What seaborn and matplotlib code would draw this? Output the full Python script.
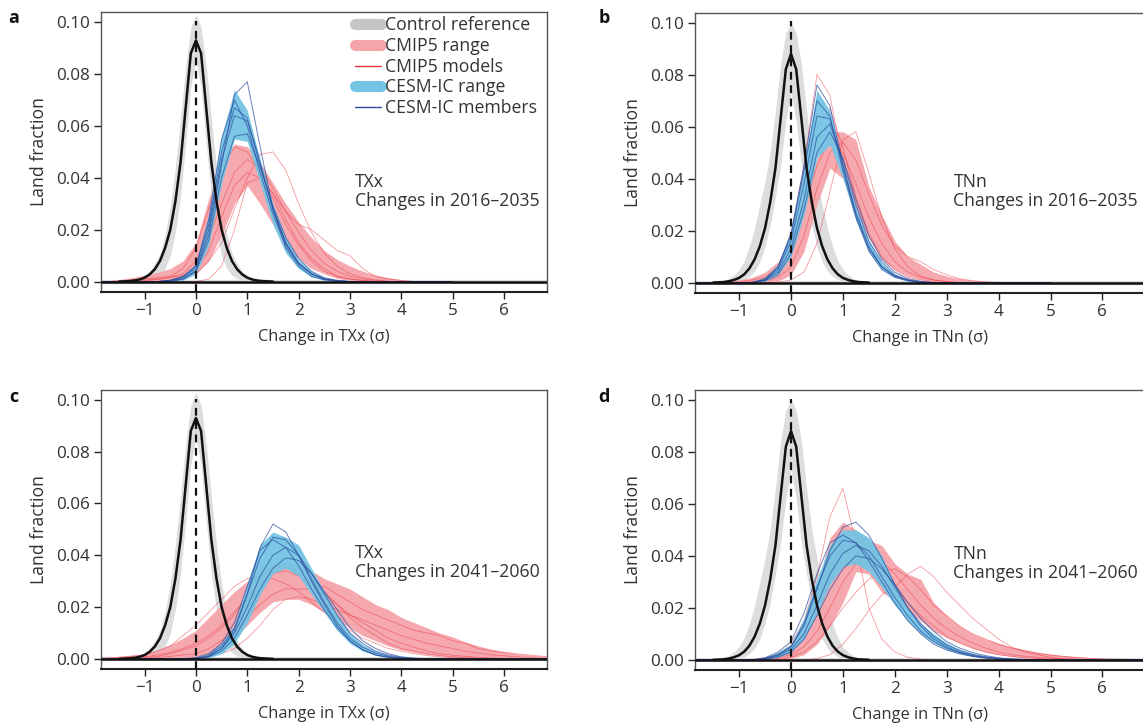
#!/usr/bin/env python3
"""
Land-fraction distributions of TXx / TNn changes (in units of control sigma):
control reference, CMIP5 models and the CESM initial-condition ensemble.
"""

import numpy as np
import matplotlib
matplotlib.use("Agg")
import matplotlib.pyplot as plt
from matplotlib.lines import Line2D
import seaborn as sns


# sample positions (sigma units)
GRID_AB = np.round(np.arange(-2.0, 5.001, 0.25), 2)   # 29 points, panels a/b
GRID_CD = np.round(np.arange(-2.0, 7.001, 0.25), 2)   # 37 points, panels c/d
CTRL_X = np.round(np.arange(-1.5, 1.501, 0.1), 2)     # 31 points, control

# ---- control reference (same for both periods) ----
CTRL_TXX_MID = [0, 0.0001, 0.0002, 0.0004, 0.0008, 0.0015, 0.0028, 0.0048, 0.008, 0.013, 0.020, 0.031, 0.046, 0.067, 0.088,
                0.093,
                0.088, 0.067, 0.046, 0.031, 0.020, 0.013, 0.008, 0.0048, 0.0028, 0.0015, 0.0008, 0.0004, 0.0002, 0.0001, 0]
CTRL_TXX_HI = [0, 0.0001, 0.0003, 0.0006, 0.0012, 0.0022, 0.004, 0.007, 0.011, 0.018, 0.029, 0.044, 0.063, 0.083, 0.098,
               0.103,
               0.098, 0.083, 0.063, 0.044, 0.029, 0.018, 0.011, 0.007, 0.004, 0.0022, 0.0012, 0.0006, 0.0003, 0.0001, 0]
CTRL_TXX_LO = [0, 0, 0, 0, 0, 0.0002, 0.0005, 0.0012, 0.0025, 0.005, 0.010, 0.019, 0.033, 0.053, 0.075,
               0.085,
               0.075, 0.053, 0.033, 0.019, 0.010, 0.005, 0.0025, 0.0012, 0.0005, 0.0002, 0, 0, 0, 0, 0]
CTRL_TNN_MID = [0, 0.0001, 0.0002, 0.0005, 0.001, 0.0018, 0.0032, 0.0055, 0.009, 0.014, 0.021, 0.031, 0.044, 0.063, 0.082,
                0.088,
                0.082, 0.063, 0.044, 0.031, 0.021, 0.014, 0.009, 0.0055, 0.0032, 0.0018, 0.001, 0.0005, 0.0002, 0.0001, 0]
CTRL_TNN_HI = [0, 0.0003, 0.0008, 0.0015, 0.003, 0.005, 0.0085, 0.014, 0.021, 0.030, 0.039, 0.050, 0.066, 0.084, 0.096,
               0.100,
               0.096, 0.084, 0.066, 0.050, 0.039, 0.030, 0.021, 0.014, 0.0085, 0.005, 0.003, 0.0015, 0.0008, 0.0003, 0]
CTRL_TNN_LO = [0, 0, 0, 0, 0.0002, 0.0005, 0.0012, 0.0025, 0.0045, 0.008, 0.014, 0.022, 0.033, 0.045, 0.062,
               0.073,
               0.062, 0.045, 0.033, 0.022, 0.014, 0.008, 0.0045, 0.0025, 0.0012, 0.0005, 0.0002, 0, 0, 0, 0]

# ---- panel a: TXx 2016-2035 (GRID_AB) ----
A_CMIP_HI = [0, 0.0003, 0.0008, 0.0015, 0.0025, 0.0035, 0.005, 0.008,
             0.015, 0.032, 0.045, 0.053, 0.052, 0.046, 0.038, 0.030,
             0.023, 0.017, 0.012, 0.0085, 0.006, 0.004, 0.0025, 0.0015,
             0.0008, 0.0004, 0.0001, 0, 0]
A_CMIP_LO = [0, 0, 0, 0, 0, 0, 0.0003, 0.001,
             0.003, 0.008, 0.018, 0.030, 0.037, 0.030, 0.022, 0.014,
             0.009, 0.005, 0.003, 0.0012, 0.0005, 0.0002, 0, 0,
             0, 0, 0, 0, 0]
A_CMIP_M1 = [0, 0, 0, 0, 0, 0, 0.0005, 0.0015,
             0.003, 0.008, 0.015, 0.028, 0.040, 0.049, 0.050, 0.043,
             0.030, 0.019, 0.011, 0.006, 0.003, 0.0015, 0.0006, 0.0002,
             0, 0, 0, 0, 0]
A_CMIP_M2 = [0, 0, 0, 0, 0.0003, 0.0008, 0.0015, 0.0025,
             0.004, 0.012, 0.025, 0.037, 0.042, 0.040, 0.034, 0.027,
             0.022, 0.020, 0.016, 0.012, 0.010, 0.005, 0.002, 0.001,
             0.0004, 0, 0, 0, 0]
A_CMIP_M3 = [0, 0, 0.0003, 0.0006, 0.001, 0.0015, 0.002, 0.005,
             0.013, 0.028, 0.043, 0.052, 0.050, 0.042, 0.032, 0.022,
             0.014, 0.008, 0.004, 0.002, 0.001, 0.0004, 0, 0,
             0, 0, 0, 0, 0]
A_CMIP_M4 = [0, 0, 0, 0.0003, 0.0006, 0.001, 0.0018, 0.003,
             0.008, 0.017, 0.030, 0.042, 0.047, 0.044, 0.036, 0.027,
             0.019, 0.012, 0.007, 0.004, 0.002, 0.001, 0.0004, 0,
             0, 0, 0, 0, 0]
A_CMIP_M5 = [0, 0, 0, 0, 0, 0, 0, 0,
             0, 0.001, 0.006, 0.020, 0.038, 0.040, 0.034, 0.024,
             0.015, 0.009, 0.005, 0.002, 0.001, 0.0004, 0, 0,
             0, 0, 0, 0, 0]
A_CESM_HI = [0, 0, 0, 0, 0, 0, 0.0005, 0.002,
             0.007, 0.026, 0.056, 0.074, 0.066, 0.047, 0.030, 0.017,
             0.0085, 0.004, 0.0015, 0.0005, 0, 0, 0, 0,
             0, 0, 0, 0, 0]
A_CESM_LO = [0, 0, 0, 0, 0, 0, 0, 0.0005,
             0.003, 0.014, 0.038, 0.055, 0.054, 0.038, 0.022, 0.011,
             0.005, 0.0018, 0.0006, 0.0001, 0, 0, 0, 0,
             0, 0, 0, 0, 0]
A_CESM_M1 = [0, 0, 0, 0, 0, 0, 0, 0.001,
             0.004, 0.018, 0.045, 0.072, 0.077, 0.052, 0.028, 0.013,
             0.006, 0.002, 0.0007, 0, 0, 0, 0, 0,
             0, 0, 0, 0, 0]
A_CESM_M2 = [0, 0, 0, 0, 0, 0, 0.0005, 0.002,
             0.006, 0.024, 0.055, 0.070, 0.060, 0.042, 0.026, 0.014,
             0.007, 0.003, 0.001, 0.0003, 0, 0, 0, 0,
             0, 0, 0, 0, 0]
A_CESM_M3 = [0, 0, 0, 0, 0, 0, 0.0003, 0.0015,
             0.005, 0.020, 0.047, 0.064, 0.062, 0.045, 0.028, 0.015,
             0.007, 0.003, 0.001, 0.0003, 0, 0, 0, 0,
             0, 0, 0, 0, 0]
A_CESM_M4 = [0, 0, 0, 0, 0, 0, 0.0003, 0.001,
             0.004, 0.016, 0.040, 0.056, 0.057, 0.044, 0.029, 0.017,
             0.009, 0.004, 0.0015, 0.0005, 0, 0, 0, 0,
             0, 0, 0, 0, 0]
A_CESM_M5 = [0, 0, 0, 0, 0, 0, 0.0005, 0.002,
             0.006, 0.022, 0.050, 0.067, 0.063, 0.046, 0.028, 0.015,
             0.007, 0.003, 0.001, 0.0003, 0, 0, 0, 0,
             0, 0, 0, 0, 0]

# ---- panel b: TNn 2016-2035 (GRID_AB) ----
B_CMIP_HI = [0, 0, 0.0002, 0.0005, 0.001, 0.002, 0.004, 0.008,
             0.018, 0.033, 0.048, 0.058, 0.058, 0.055, 0.037, 0.026,
             0.016, 0.010, 0.007, 0.004, 0.0025, 0.0015, 0.0008, 0.0004,
             0.0002, 0, 0, 0, 0]
B_CMIP_LO = [0, 0, 0, 0, 0, 0, 0, 0.0005,
             0.003, 0.012, 0.030, 0.044, 0.040, 0.028, 0.017, 0.009,
             0.005, 0.0025, 0.0012, 0.0005, 0.0002, 0, 0, 0,
             0, 0, 0, 0, 0]
B_CMIP_M1 = [0, 0, 0, 0, 0, 0, 0.001, 0.005,
             0.018, 0.045, 0.080, 0.072, 0.046, 0.026, 0.013, 0.006,
             0.0025, 0.001, 0.0004, 0, 0, 0, 0, 0,
             0, 0, 0, 0, 0]
B_CMIP_M2 = [0, 0, 0, 0, 0, 0, 0, 0,
             0.001, 0.004, 0.015, 0.035, 0.055, 0.058, 0.042, 0.025,
             0.013, 0.006, 0.0025, 0.001, 0.0003, 0, 0, 0,
             0, 0, 0, 0, 0]
B_CMIP_M3 = [0, 0, 0, 0, 0.0003, 0.001, 0.002, 0.006,
             0.014, 0.028, 0.045, 0.055, 0.050, 0.038, 0.025, 0.015,
             0.008, 0.004, 0.002, 0.001, 0.0004, 0, 0, 0,
             0, 0, 0, 0, 0]
B_CMIP_M4 = [0, 0, 0, 0, 0, 0.0003, 0.001, 0.004,
             0.012, 0.032, 0.060, 0.067, 0.052, 0.033, 0.019, 0.010,
             0.005, 0.002, 0.001, 0.0003, 0, 0, 0, 0,
             0, 0, 0, 0, 0]
B_CMIP_M5 = [0, 0, 0, 0, 0, 0, 0.0005, 0.002,
             0.006, 0.018, 0.036, 0.050, 0.054, 0.047, 0.034, 0.022,
             0.014, 0.010, 0.008, 0.005, 0.003, 0.0015, 0.0007, 0.0003,
             0, 0, 0, 0, 0]
B_CESM_HI = [0, 0, 0, 0, 0, 0.0003, 0.002, 0.007,
             0.020, 0.045, 0.074, 0.066, 0.046, 0.029, 0.016, 0.0075,
             0.003, 0.001, 0.0003, 0, 0, 0, 0, 0,
             0, 0, 0, 0, 0]
B_CESM_LO = [0, 0, 0, 0, 0, 0, 0.0005, 0.003,
             0.010, 0.026, 0.048, 0.053, 0.040, 0.024, 0.012, 0.005,
             0.002, 0.0005, 0, 0, 0, 0, 0, 0,
             0, 0, 0, 0, 0]
B_CESM_M1 = [0, 0, 0, 0, 0, 0, 0.001, 0.006,
             0.019, 0.045, 0.076, 0.068, 0.045, 0.026, 0.013, 0.006,
             0.0025, 0.001, 0, 0, 0, 0, 0, 0,
             0, 0, 0, 0, 0]
B_CESM_M2 = [0, 0, 0, 0, 0, 0, 0.001, 0.005,
             0.016, 0.038, 0.064, 0.063, 0.045, 0.027, 0.014, 0.006,
             0.0025, 0.001, 0, 0, 0, 0, 0, 0,
             0, 0, 0, 0, 0]
B_CESM_M3 = [0, 0, 0, 0, 0, 0, 0.001, 0.004,
             0.013, 0.032, 0.056, 0.061, 0.047, 0.030, 0.016, 0.008,
             0.003, 0.001, 0.0003, 0, 0, 0, 0, 0,
             0, 0, 0, 0, 0]
B_CESM_M4 = [0, 0, 0, 0, 0, 0, 0.0007, 0.003,
             0.011, 0.028, 0.050, 0.058, 0.048, 0.032, 0.018, 0.009,
             0.004, 0.0015, 0.0005, 0, 0, 0, 0, 0,
             0, 0, 0, 0, 0]
B_CESM_M5 = [0, 0, 0, 0, 0, 0, 0.0015, 0.006,
             0.018, 0.043, 0.070, 0.064, 0.043, 0.025, 0.012, 0.005,
             0.002, 0.0007, 0, 0, 0, 0, 0, 0,
             0, 0, 0, 0, 0]

# ---- panel c: TXx 2041-2060 (GRID_CD) ----
C_CMIP_HI = [0.0005, 0.0008, 0.001, 0.0015, 0.002, 0.0035, 0.0055, 0.008,
             0.011, 0.016, 0.021, 0.026, 0.030, 0.034, 0.036, 0.037,
             0.036, 0.034, 0.031, 0.029, 0.027, 0.024, 0.021, 0.019,
             0.016, 0.014, 0.012, 0.010, 0.0085, 0.0065, 0.005, 0.0038,
             0.0028, 0.002, 0.0015, 0.001, 0.0008]
C_CMIP_LO = [0, 0, 0, 0, 0, 0, 0, 0.0003,
             0.001, 0.002, 0.004, 0.008, 0.013, 0.018, 0.022, 0.023,
             0.023, 0.021, 0.018, 0.015, 0.012, 0.009, 0.007, 0.005,
             0.0035, 0.0025, 0.0017, 0.0012, 0.0008, 0.0005, 0.0003, 0.0002,
             0.0001, 0, 0, 0, 0]
C_CMIP_M1 = [0, 0.0003, 0.0006, 0.001, 0.0015, 0.003, 0.005, 0.009,
             0.013, 0.018, 0.023, 0.028, 0.031, 0.032, 0.031, 0.029,
             0.026, 0.022, 0.018, 0.014, 0.011, 0.008, 0.006, 0.004,
             0.003, 0.002, 0.0013, 0.0008, 0.0005, 0.0003, 0.0002, 0,
             0, 0, 0, 0, 0]
C_CMIP_M2 = [0, 0, 0.0002, 0.0004, 0.0008, 0.0015, 0.0025, 0.004,
             0.006, 0.009, 0.013, 0.018, 0.024, 0.029, 0.033, 0.034,
             0.032, 0.029, 0.025, 0.021, 0.017, 0.014, 0.011, 0.008,
             0.006, 0.0045, 0.003, 0.002, 0.0014, 0.001, 0.0006, 0.0004,
             0.0002, 0.0001, 0, 0, 0]
C_CMIP_M3 = [0, 0, 0, 0, 0.0002, 0.0005, 0.001, 0.0015,
             0.002, 0.004, 0.007, 0.011, 0.016, 0.021, 0.025, 0.027,
             0.027, 0.027, 0.028, 0.025, 0.022, 0.019, 0.017, 0.015,
             0.013, 0.011, 0.010, 0.009, 0.007, 0.006, 0.004, 0.003,
             0.0025, 0.002, 0.0015, 0.001, 0.0008]
C_CMIP_M4 = [0, 0, 0, 0, 0, 0, 0, 0.0002,
             0.0005, 0.001, 0.002, 0.004, 0.008, 0.013, 0.019, 0.023,
             0.024, 0.023, 0.021, 0.019, 0.017, 0.015, 0.013, 0.011,
             0.009, 0.0075, 0.006, 0.005, 0.004, 0.003, 0.0022, 0.0016,
             0.0012, 0.0008, 0.0005, 0.0003, 0.0002]
C_CMIP_M5 = [0, 0, 0, 0.0002, 0.0005, 0.001, 0.002, 0.0035,
             0.005, 0.008, 0.012, 0.017, 0.024, 0.031, 0.035, 0.037,
             0.035, 0.031, 0.026, 0.021, 0.016, 0.012, 0.009, 0.006,
             0.004, 0.003, 0.002, 0.0013, 0.0008, 0.0005, 0.0003, 0.0002,
             0.0001, 0, 0, 0, 0]
C_CESM_HI = [0, 0, 0, 0, 0, 0, 0, 0,
             0, 0.002, 0.006, 0.013, 0.029, 0.044, 0.049, 0.047,
             0.044, 0.035, 0.026, 0.017, 0.010, 0.0055, 0.003, 0.0015,
             0.0007, 0.0003, 0, 0, 0, 0, 0, 0,
             0, 0, 0, 0, 0]
C_CESM_LO = [0, 0, 0, 0, 0, 0, 0, 0,
             0, 0.0005, 0.002, 0.006, 0.014, 0.025, 0.033, 0.035,
             0.032, 0.025, 0.018, 0.011, 0.006, 0.003, 0.0015, 0.0006,
             0.0002, 0, 0, 0, 0, 0, 0, 0,
             0, 0, 0, 0, 0]
C_CESM_M1 = [0, 0, 0, 0, 0, 0, 0, 0,
             0, 0.001, 0.004, 0.011, 0.025, 0.043, 0.052, 0.049,
             0.040, 0.030, 0.021, 0.013, 0.007, 0.0035, 0.0015, 0.0006,
             0.0002, 0, 0, 0, 0, 0, 0, 0,
             0, 0, 0, 0, 0]
C_CESM_M2 = [0, 0, 0, 0, 0, 0, 0, 0,
             0.0003, 0.0015, 0.005, 0.012, 0.025, 0.039, 0.047, 0.046,
             0.040, 0.031, 0.022, 0.014, 0.008, 0.0045, 0.0022, 0.001,
             0.0004, 0.0001, 0, 0, 0, 0, 0, 0,
             0, 0, 0, 0, 0]
C_CESM_M3 = [0, 0, 0, 0, 0, 0, 0, 0,
             0.0002, 0.001, 0.004, 0.010, 0.020, 0.032, 0.040, 0.043,
             0.040, 0.033, 0.025, 0.017, 0.010, 0.006, 0.003, 0.0015,
             0.0006, 0.0002, 0, 0, 0, 0, 0, 0,
             0, 0, 0, 0, 0]
C_CESM_M4 = [0, 0, 0, 0, 0, 0, 0, 0,
             0.0001, 0.0008, 0.003, 0.008, 0.017, 0.027, 0.035, 0.039,
             0.038, 0.033, 0.026, 0.019, 0.012, 0.007, 0.004, 0.002,
             0.0008, 0.0003, 0, 0, 0, 0, 0, 0,
             0, 0, 0, 0, 0]
C_CESM_M5 = [0, 0, 0, 0, 0, 0, 0, 0,
             0.0005, 0.002, 0.006, 0.014, 0.028, 0.042, 0.046, 0.043,
             0.036, 0.027, 0.019, 0.012, 0.007, 0.0035, 0.0015, 0.0006,
             0.0002, 0, 0, 0, 0, 0, 0, 0,
             0, 0, 0, 0, 0]

# ---- panel d: TNn 2041-2060 (GRID_CD) ----
D_CMIP_HI = [0, 0, 0, 0.0001, 0.0003, 0.0006, 0.0012, 0.0025,
             0.005, 0.012, 0.028, 0.047, 0.053, 0.050, 0.046, 0.044,
             0.037, 0.033, 0.031, 0.022, 0.017, 0.013, 0.010, 0.008,
             0.0064, 0.005, 0.0039, 0.003, 0.0023, 0.0017, 0.0013, 0.0009,
             0.0006, 0.0004, 0.0003, 0.0002, 0.0001]
D_CMIP_LO = [0, 0, 0, 0, 0, 0, 0, 0,
             0.0005, 0.002, 0.006, 0.013, 0.022, 0.034, 0.033, 0.026,
             0.023, 0.019, 0.015, 0.011, 0.0085, 0.0065, 0.0045, 0.003,
             0.002, 0.0013, 0.0008, 0.0005, 0.0003, 0.0002, 0.0001, 0,
             0, 0, 0, 0, 0]
D_CMIP_M1 = [0, 0, 0, 0, 0, 0, 0.0005, 0.002,
             0.006, 0.015, 0.032, 0.055, 0.066, 0.045, 0.020, 0.008,
             0.003, 0.001, 0.0003, 0, 0, 0, 0, 0,
             0, 0, 0, 0, 0, 0, 0, 0,
             0, 0, 0, 0, 0]
D_CMIP_M2 = [0, 0, 0, 0, 0, 0, 0, 0,
             0, 0, 0.0005, 0.002, 0.006, 0.012, 0.019, 0.025,
             0.028, 0.033, 0.036, 0.032, 0.026, 0.021, 0.016, 0.012,
             0.008, 0.005, 0.003, 0.002, 0.001, 0.0005, 0.0002, 0,
             0, 0, 0, 0, 0]
D_CMIP_M3 = [0, 0, 0, 0, 0, 0, 0.0005, 0.0015,
             0.004, 0.010, 0.021, 0.034, 0.043, 0.045, 0.041, 0.035,
             0.028, 0.022, 0.017, 0.013, 0.009, 0.0065, 0.0045, 0.003,
             0.002, 0.0013, 0.0008, 0.0005, 0.0003, 0.0002, 0, 0,
             0, 0, 0, 0, 0]
D_CMIP_M4 = [0, 0, 0, 0, 0, 0, 0, 0.0005,
             0.002, 0.005, 0.011, 0.020, 0.030, 0.037, 0.040, 0.038,
             0.033, 0.027, 0.021, 0.016, 0.012, 0.009, 0.0065, 0.0045,
             0.003, 0.002, 0.0014, 0.001, 0.0006, 0.0004, 0.0002, 0.0001,
             0, 0, 0, 0, 0]
D_CMIP_M5 = [0, 0, 0, 0, 0, 0, 0, 0,
             0.001, 0.003, 0.007, 0.013, 0.020, 0.026, 0.031, 0.034,
             0.035, 0.032, 0.027, 0.021, 0.017, 0.013, 0.010, 0.008,
             0.006, 0.0045, 0.0035, 0.0025, 0.0018, 0.0013, 0.0009, 0.0006,
             0.0004, 0.0003, 0.0002, 0.0001, 0]
D_CESM_HI = [0, 0, 0, 0, 0, 0.0002, 0.001, 0.003,
             0.006, 0.016, 0.031, 0.044, 0.050, 0.050, 0.047, 0.040,
             0.029, 0.020, 0.014, 0.010, 0.0065, 0.004, 0.0025, 0.0014,
             0.0007, 0.0003, 0.0001, 0, 0, 0, 0, 0,
             0, 0, 0, 0, 0]
D_CESM_LO = [0, 0, 0, 0, 0, 0, 0.0003, 0.001,
             0.003, 0.008, 0.018, 0.029, 0.036, 0.037, 0.034, 0.028,
             0.021, 0.015, 0.010, 0.0065, 0.004, 0.0025, 0.0014, 0.0007,
             0.0003, 0.0001, 0, 0, 0, 0, 0, 0,
             0, 0, 0, 0, 0]
D_CESM_M1 = [0, 0, 0, 0, 0, 0, 0.0005, 0.002,
             0.005, 0.013, 0.027, 0.042, 0.051, 0.053, 0.048, 0.039,
             0.029, 0.020, 0.013, 0.008, 0.005, 0.003, 0.0017, 0.0009,
             0.0004, 0.0002, 0, 0, 0, 0, 0, 0,
             0, 0, 0, 0, 0]
D_CESM_M2 = [0, 0, 0, 0, 0, 0, 0.0008, 0.003,
             0.007, 0.018, 0.033, 0.045, 0.048, 0.045, 0.038, 0.030,
             0.022, 0.015, 0.010, 0.006, 0.0038, 0.0023, 0.0013, 0.0007,
             0.0003, 0.0001, 0, 0, 0, 0, 0, 0,
             0, 0, 0, 0, 0]
D_CESM_M3 = [0, 0, 0, 0, 0, 0, 0.0003, 0.0015,
             0.004, 0.010, 0.021, 0.033, 0.041, 0.044, 0.042, 0.036,
             0.028, 0.020, 0.014, 0.009, 0.0058, 0.0036, 0.0021, 0.0012,
             0.0006, 0.0003, 0.0001, 0, 0, 0, 0, 0,
             0, 0, 0, 0, 0]
D_CESM_M4 = [0, 0, 0, 0, 0, 0, 0.0002, 0.001,
             0.003, 0.008, 0.017, 0.027, 0.035, 0.040, 0.039, 0.035,
             0.029, 0.022, 0.016, 0.011, 0.007, 0.0045, 0.0028, 0.0016,
             0.0008, 0.0004, 0.0002, 0, 0, 0, 0, 0,
             0, 0, 0, 0, 0]
D_CESM_M5 = [0, 0, 0, 0, 0, 0, 0.0005, 0.002,
             0.005, 0.014, 0.028, 0.040, 0.046, 0.045, 0.040, 0.032,
             0.024, 0.017, 0.011, 0.007, 0.0045, 0.0027, 0.0015, 0.0008,
             0.0004, 0.0002, 0, 0, 0, 0, 0, 0,
             0, 0, 0, 0, 0]

# ---- styling ----
GREY = "#dcdddf"
GREY_LEG = "#c4c5c7"
PINK = "#f5a4aa"
RED = "#ec3540"
SKY = "#74c4e4"
NAVY = "#2b4b9f"

XLIM = (-1.85, 6.84)
YLIM = (-0.0039, 0.1038)
FS_TICK = 12.3
FS_TEXT = 12.7
FS_XLAB = 11.8

sns.set_theme(style="ticks")
plt.rcParams["font.family"] = ["Open Sans", "DejaVu Sans"]
plt.rcParams["axes.unicode_minus"] = True

fig = plt.figure(figsize=(11.43, 7.27), dpi=100)
W, H = 1143.0, 727.0


def add_axes(left, top, right, bottom):
    return fig.add_axes([left / W, 1 - bottom / H, (right - left) / W, (bottom - top) / H])


panels = [
    dict(ax=add_axes(101, 12.3, 547, 291.7), letter="a", lx=14, ly=18,
         grid=GRID_AB, var="TXx", years="2016\u20132035", tx=3.1, ty=0.0346,
         ctrl=(CTRL_TXX_LO, CTRL_TXX_HI, CTRL_TXX_MID),
         cmip=(A_CMIP_LO, A_CMIP_HI), cmip_m=[A_CMIP_M1, A_CMIP_M2, A_CMIP_M3, A_CMIP_M4, A_CMIP_M5],
         cesm=(A_CESM_LO, A_CESM_HI), cesm_m=[A_CESM_M1, A_CESM_M2, A_CESM_M3, A_CESM_M4, A_CESM_M5]),
    dict(ax=add_axes(695, 12.7, 1146, 292.7), letter="b", lx=604, ly=18,
         grid=GRID_AB, var="TNn", years="2016\u20132035", tx=3.13, ty=0.035,
         ctrl=(CTRL_TNN_LO, CTRL_TNN_HI, CTRL_TNN_MID),
         cmip=(B_CMIP_LO, B_CMIP_HI), cmip_m=[B_CMIP_M1, B_CMIP_M2, B_CMIP_M3, B_CMIP_M4, B_CMIP_M5],
         cesm=(B_CESM_LO, B_CESM_HI), cesm_m=[B_CESM_M1, B_CESM_M2, B_CESM_M3, B_CESM_M4, B_CESM_M5]),
    dict(ax=add_axes(101, 390, 547, 669), letter="c", lx=14, ly=397,
         grid=GRID_CD, var="TXx", years="2041\u20132060", tx=3.09, ty=0.0372,
         ctrl=(CTRL_TXX_LO, CTRL_TXX_HI, CTRL_TXX_MID),
         cmip=(C_CMIP_LO, C_CMIP_HI), cmip_m=[C_CMIP_M1, C_CMIP_M2, C_CMIP_M3, C_CMIP_M4, C_CMIP_M5],
         cesm=(C_CESM_LO, C_CESM_HI), cesm_m=[C_CESM_M1, C_CESM_M2, C_CESM_M3, C_CESM_M4, C_CESM_M5]),
    dict(ax=add_axes(695, 390, 1146, 670), letter="d", lx=604, ly=397,
         grid=GRID_CD, var="TNn", years="2041\u20132060", tx=3.13, ty=0.037,
         ctrl=(CTRL_TNN_LO, CTRL_TNN_HI, CTRL_TNN_MID),
         cmip=(D_CMIP_LO, D_CMIP_HI), cmip_m=[D_CMIP_M1, D_CMIP_M2, D_CMIP_M3, D_CMIP_M4, D_CMIP_M5],
         cesm=(D_CESM_LO, D_CESM_HI), cesm_m=[D_CESM_M1, D_CESM_M2, D_CESM_M3, D_CESM_M4, D_CESM_M5]),
]

for p in panels:
    ax = p["ax"]
    g = p["grid"]
    c_lo, c_hi, c_mid = p["ctrl"]

    # control reference band + baseline
    ax.axhline(0, color=GREY, lw=3, zorder=0.5)
    ax.fill_between(CTRL_X, c_lo, c_hi, color=GREY, lw=0, zorder=1)

    # CMIP5
    ax.fill_between(g, p["cmip"][0], p["cmip"][1], color=PINK, lw=0, alpha=0.95, zorder=2)
    for m in p["cmip_m"]:
        sns.lineplot(x=g, y=m, ax=ax, color=RED, lw=0.6, alpha=0.5, zorder=3)

    # CESM-IC
    ax.fill_between(g, p["cesm"][0], p["cesm"][1], color=SKY, lw=0, alpha=0.95, zorder=4)
    for m in p["cesm_m"]:
        sns.lineplot(x=g, y=m, ax=ax, color=NAVY, lw=0.7, alpha=0.7, zorder=5)

    # control mean + zero line
    ax.axhline(0, color="#111111", lw=1.8, zorder=6)
    sns.lineplot(x=CTRL_X, y=c_mid, ax=ax, color="#111111", lw=1.8, zorder=6)
    ax.plot([0, 0], [YLIM[0], 0.1005], color="#111111", lw=1.6, ls=(0, (3.5, 2.5)), zorder=7)

    ax.set_xlim(*XLIM)
    ax.set_ylim(*YLIM)
    ax.set_xticks(range(-1, 7))
    ax.set_yticks([0, 0.02, 0.04, 0.06, 0.08, 0.10])
    ax.set_yticklabels([f"{v:.2f}" for v in [0, 0.02, 0.04, 0.06, 0.08, 0.10]])
    ax.tick_params(direction="out", length=5, width=1, colors="#222222", labelsize=FS_TICK,
                   labelcolor="#333333", pad=3)
    for side, sp in ax.spines.items():
        sp.set_visible(True)
        sp.set_color("#555555" if side != "bottom" else "#222222")
        sp.set_linewidth(1.0 if side != "bottom" else 1.5)
    ax.set_xlabel(f"Change in {p['var']} (\u03c3)", fontsize=FS_XLAB, color="#333333", labelpad=7)
    ax.set_ylabel("Land fraction", fontsize=FS_TEXT, color="#333333", labelpad=6)
    ax.text(p["tx"], p["ty"], f"{p['var']}\nChanges in {p['years']}", fontsize=FS_TEXT,
            color="#333333", va="center", ha="left", linespacing=1.05, zorder=8)
    fig.text(p["lx"] / W, 1 - p["ly"] / H, p["letter"], fontsize=13, fontweight="bold",
             color="#111111", ha="center", va="center")

handles = [
    Line2D([], [], color=GREY_LEG, lw=8, solid_capstyle="round"),
    Line2D([], [], color=PINK, lw=8, solid_capstyle="round"),
    Line2D([], [], color=RED, lw=1),
    Line2D([], [], color=SKY, lw=8, solid_capstyle="round"),
    Line2D([], [], color=NAVY, lw=1),
]
labels = ["Control reference", "CMIP5 range", "CMIP5 models", "CESM-IC range", "CESM-IC members"]
leg = panels[0]["ax"].legend(handles, labels, loc="upper left", bbox_to_anchor=(0.57, 0.985),
                             frameon=False, fontsize=FS_TEXT, handlelength=1.45, handletextpad=0.25,
                             labelspacing=0.15, borderpad=0, borderaxespad=0)
for t in leg.get_texts():
    t.set_color("#333333")

fig.savefig("out.png", dpi=100)
